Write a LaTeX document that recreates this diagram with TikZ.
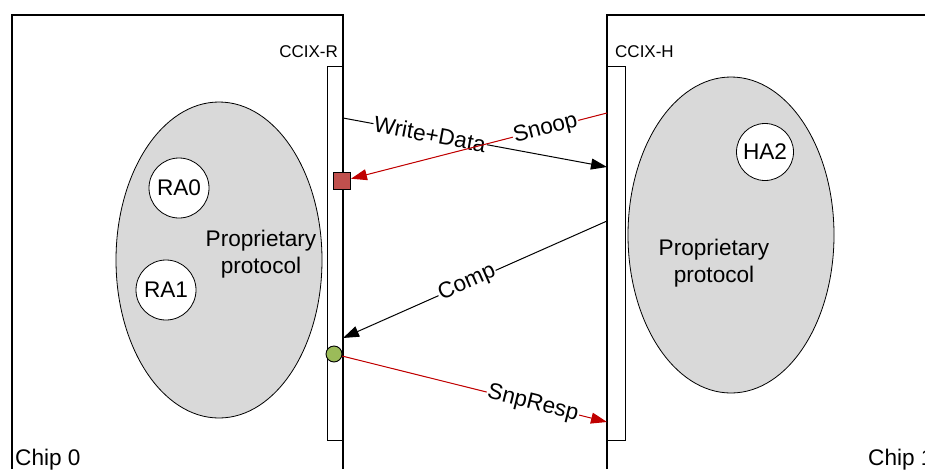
\documentclass[tikz,border=0pt]{standalone}
\usepackage{fontspec}
\setmainfont{Liberation Sans}
\usetikzlibrary{shapes.geometric,arrows.meta}
\definecolor{snpred}{RGB}{192,0,0}
\definecolor{boxred}{RGB}{192,80,77}
\definecolor{dotgreen}{RGB}{155,187,89}

\begin{document}
\begin{tikzpicture}[x=1pt,y=-1pt,
      every node/.style={font=\fontsize{22.6}{27}\selectfont,inner sep=0pt},
      chipline/.style={line width=2.8pt},
      port/.style={draw,fill=white,line width=0.8pt,minimum width=16pt,minimum height=374pt},
      protoarea/.style={ellipse,draw,fill=black!15,line width=0.8pt,minimum width=206pt,minimum height=316pt},
      agent/.style={circle,draw,fill=white,line width=0.8pt,minimum size=60pt},
      msg/.style={line width=1pt,-{Triangle[length=16pt,width=11pt]}},
      snp/.style={msg,draw=snpred,fill=snpred},
      lbl/.style={fill=white,sloped,inner sep=1pt}
     ]
    \useasboundingbox (0,0) rectangle (925,469);
    \clip (0,0) rectangle (925,469);

    \node[protoarea] (area0) at (219,260) {};
    \node[protoarea] (area1) at (731,235) {};
    \node[agent] (ra0) at (179,188) {RA0};
    \node[agent] (ra1) at (166,290) {RA1};
    \node[agent,minimum size=57pt] (ha2) at (765,152) {HA2};
    \node[align=center] (pp0) at (261,254) {Proprietary\\protocol};
    \node[align=center] (pp1) at (714,263) {Proprietary\\protocol};

    \node[port] (ccixR) at (335,253) {};
    \node[port,minimum width=18pt] (ccixH) at (616,253) {};
    \node[font=\fontsize{17}{20}\selectfont,anchor=base east] (lblR) at (338,57) {CCIX-R};
    \node[font=\fontsize{17}{20}\selectfont,anchor=base west] (lblH) at (615,57) {CCIX-H};

    \draw[chipline] (12,469) |- (343,15) -- (343,469);
    \draw[chipline] (607,469) |- (925,15);
    \node[anchor=base west] (chip0) at (15,465) {Chip 0};
    \node[anchor=base west] (chip1) at (868,465) {Chip 1};

    \node[draw,fill=boxred,line width=0.9pt,minimum size=17pt] (rsq) at (342,181) {};
    \node[circle,draw,fill=dotgreen,line width=0.9pt,minimum size=16pt] (gdot) at (334,354) {};

    \coordinate (wrS) at (343,118);
    \coordinate (wrE) at (607,167);
    \coordinate (snS) at (607,113);
    \coordinate (cpS) at (607,221);
    \coordinate (cpE) at (343,338);
    \coordinate (srE) at (607,422);

    \draw[msg] (wrS) -- node[lbl,pos=0.33] {Write+Data} (wrE);
    \draw[snp] (snS) -- node[lbl,pos=0.24] {Snoop} (rsq);
    \draw[msg] (cpS) -- node[lbl,pos=0.53] {Comp} (cpE);
    \draw[snp] (gdot) -- node[lbl,pos=0.72] {SnpResp} (srE);
\end{tikzpicture}
\end{document}
